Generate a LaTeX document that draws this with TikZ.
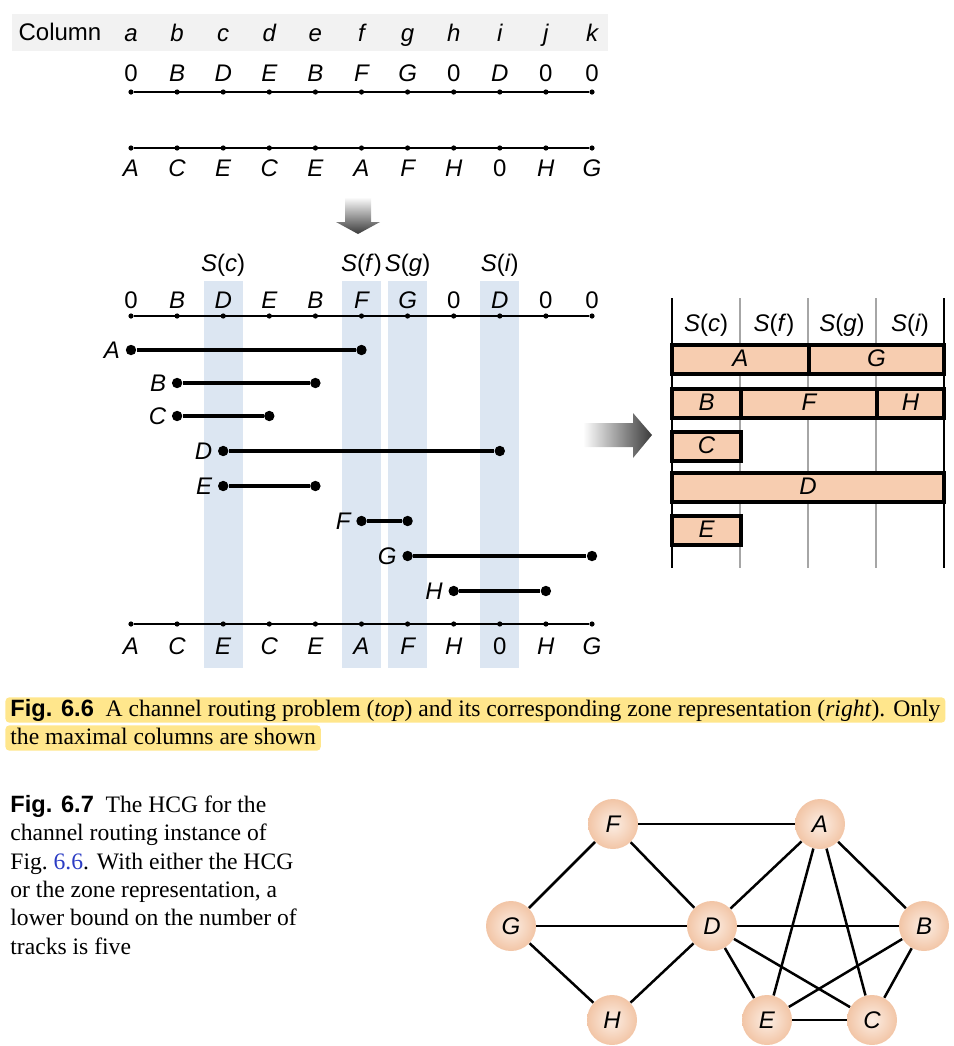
\documentclass[tikz,border=0pt]{standalone}
\usepackage{fontspec}
\setmainfont{Liberation Serif}
\setsansfont{Liberation Sans}
\usetikzlibrary{positioning,backgrounds,calc}
\definecolor{txt}{HTML}{000000}
\definecolor{hdF}{HTML}{F2F2F2}
\definecolor{clF}{HTML}{DCE6F2}
\definecolor{zoF}{HTML}{F7CDB0}
\definecolor{gyB}{HTML}{A6A6A6}
\definecolor{arB}{HTML}{3A3A3A}
\definecolor{ndI}{HTML}{FCEEE4}
\definecolor{ndO}{HTML}{F2C5A6}
\definecolor{hlF}{HTML}{FFE68C}
\definecolor{lnk}{HTML}{2B3CC4}

\newcommand{\zro}{\upshape 0}
\newcommand{\colx}[1]{131+46.1*#1}

\begin{document}
\begin{tikzpicture}[x=0.5pt,y=-0.5pt,
  font=\sffamily\fontsize{12}{14}\selectfont,text=txt,
  lbl/.style={font=\sffamily\itshape\fontsize{12}{14}\selectfont,inner sep=1pt,
              text height=9pt,text depth=2.5pt},
  cdot/.style={circle,fill=black,inner sep=0pt,minimum size=2.6pt},
  netend/.style={circle,fill=black,inner sep=0pt,minimum size=5.2pt},
  chan/.style={line width=0.6pt},
  net/.style={line width=1.6pt},
  zbar/.style={fill=zoF,draw=black,line width=1.6pt},
  vtx/.style={circle,minimum size=25pt,inner sep=0pt,inner color=ndI,outer color=ndO,
              font=\sffamily\itshape\fontsize{12}{14}\selectfont},
  edg/.style={line width=1.25pt},
  captxt/.style={font=\rmfamily\fontsize{11.8}{14.15}\selectfont,inner sep=0pt},
  ]
\useasboundingbox (0,0) rectangle (954,1046);

% ================= TOP: channel routing problem =================
\fill[hdF] (12,14) rectangle (608,51);
\node (col) at (60,32) {Column};
\foreach \c [count=\i from 0] in {a,...,k}
  \node[lbl] (h\c) at (\colx{\i},35) {\c};

\foreach \t [count=\i from 0] in {\zro,B,D,E,B,F,G,\zro,D,\zro,\zro}{
  \node[lbl] (tl\i) at (\colx{\i},75) {\t};
  \node[cdot] (ta\i) at (\colx{\i},92) {};
}
\draw[chan] (ta0) -- (ta10);

\foreach \t [count=\i from 0] in {A,C,E,C,E,A,F,H,\zro,H,G}{
  \node[cdot] (ba\i) at (\colx{\i},148) {};
  \node[lbl] (bl\i) at (\colx{\i},170) {\t};
}
\draw[chan] (ba0) -- (ba10);

% ---- down arrow ----
\shade[top color=white,bottom color=arB]
  (345,197) -- (371,197) -- (371,222) -- (380,222) -- (358,234) -- (336,222) -- (345,222) -- cycle;

% ================= MIDDLE: nets and maximal columns =================
\foreach \i in {2,5,6,8}
  \fill[clF] (\colx{\i}-19.5,281) rectangle (\colx{\i}+19.5,668);
\foreach \i/\s in {2/c,5/f,6/g,8/i}
  \node (s\s) at (\colx{\i},265) {\textit{S}(\textit{\s})};

\foreach \t [count=\i from 0] in {\zro,B,D,E,B,F,G,\zro,D,\zro,\zro}{
  \node[lbl] (tm\i) at (\colx{\i},302) {\t};
  \node[cdot] (tb\i) at (\colx{\i},316) {};
}
\draw[chan] (tb0) -- (tb10);

\foreach \n/\a/\b/\y in {A/0/5/350,B/1/4/383,C/1/3/416,D/2/8/451,
                         E/2/4/486,F/5/6/521,G/6/10/556,H/7/9/591}{
  \node[netend] (\n1) at (\colx{\a},\y) {};
  \node[netend] (\n2) at (\colx{\b},\y) {};
  \draw[net] (\n1) -- (\n2);
  \node[lbl,left=1.5pt of \n1,yshift=-1pt] (l\n) {\n};
}

\foreach \t [count=\i from 0] in {A,C,E,C,E,A,F,H,\zro,H,G}{
  \node[cdot] (bb\i) at (\colx{\i},624) {};
  \node[lbl] (bm\i) at (\colx{\i},648) {\t};
}
\draw[chan] (bb0) -- (bb10);

% ---- right arrow ----
\shade[left color=white,right color=arB]
  (583,423) -- (633,423) -- (633,413) -- (652,435) -- (633,458) -- (633,447) -- (583,447) -- cycle;

% ================= RIGHT: zone representation =================
\foreach \x in {740,808,876} \draw[gyB,line width=0.6pt] (\x,298) -- (\x,568);
\foreach \x in {672,944} \draw[line width=1.2pt] (\x,298) -- (\x,568);
\foreach \x/\s in {706/c,774/f,842/g,910/i}
  \node (z\s) at (\x,325) {\textit{S}(\textit{\s})};

\foreach \n/\xa/\xb/\ya in {A/672/809/345,G/809/944/345,
                            B/672/741/389,F/741/877/389,H/877/944/389,
                            C/672/741/432,D/672/944/473,E/672/741/516}
  \draw[zbar] (\xa,\ya) rectangle (\xb,\ya+29) node[midway,lbl] (zb\n) {\n};

% ================= captions =================
\node[captxt,fill=hlF,rounded corners=2pt,anchor=west,inner xsep=2.5pt,
      text height=9.5pt,text depth=3.2pt] (cap6a) at (5,710)
  {\textsf{\bfseries Fig. 6.6}\enspace A channel routing problem (\textit{top}) and its corresponding zone representation (\textit{right}). Only};
\node[captxt,fill=hlF,rounded corners=2pt,anchor=west,inner xsep=2.5pt,
      text height=9.5pt,text depth=3.2pt] (cap6b) at (5,738)
  {the maximal columns are shown};

\node[captxt,anchor=north west,align=left] (cap7) at (10,795)
  {\textsf{\bfseries Fig. 6.7}\enspace The HCG for the\\
   channel routing instance of\\
   Fig.~\textcolor{lnk}{6.6}. With either the HCG\\
   or the zone representation, a\\
   lower bound on the number of\\
   tracks is five};

% ================= HCG =================
\node[vtx] (vF) at (613,824) {F};
\node[vtx] (vA) at (820,824) {A};
\node[vtx] (vG) at (511,926) {G};
\node[vtx] (vD) at (712,926) {D};
\node[vtx] (vB) at (924,926) {B};
\node[vtx] (vH) at (612,1020) {H};
\node[vtx] (vE) at (767,1020) {E};
\node[vtx] (vC) at (872,1020) {C};

\begin{scope}[on background layer]
\foreach \a/\b in {F/A,F/G,F/D,G/D,G/H,H/D,D/A,D/B,D/E,D/C,A/E,A/C,A/B,B/E,B/C,E/C}
  \draw[edg] (v\a) -- (v\b);
\end{scope}

\end{tikzpicture}
\end{document}
